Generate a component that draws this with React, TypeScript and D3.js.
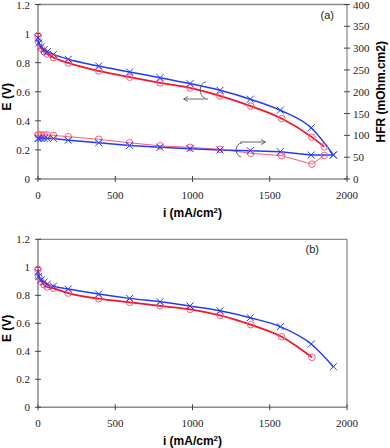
import React from "react";
import * as d3 from "d3";

// current density (mA/cm2)
const iBlueA = [0, 5, 20, 40, 60, 100, 196, 393, 593, 790, 984, 1178, 1374, 1568, 1768, 1912];
const eBlueA = [0.97, 0.935, 0.91, 0.89, 0.875, 0.857, 0.823, 0.777, 0.736, 0.697, 0.656, 0.61, 0.549, 0.473, 0.352, 0.165];
const iRedA = [0, 5, 20, 40, 60, 100, 196, 393, 593, 790, 984, 1178, 1377, 1577, 1773, 1853];
const eRedA = [0.985, 0.94, 0.9, 0.875, 0.86, 0.835, 0.798, 0.743, 0.7, 0.661, 0.626, 0.571, 0.501, 0.416, 0.288, 0.222];
// HFR (mOhm.cm2)
const hfrBlue = [93, 93, 93, 93, 93, 93, 89, 83, 77, 72.6, 69.6, 66.5, 65, 62.6, 55, 55];
const hfrRed = [101, 101, 101, 101, 101, 100, 97, 91, 83, 76, 72.6, 68, 59, 53.5, 34, 54];

const iBlueB = [0, 5, 20, 40, 60, 100, 196, 393, 593, 790, 984, 1178, 1374, 1568, 1768, 1912];
const eBlueB = [0.965, 0.935, 0.91, 0.895, 0.88, 0.865, 0.845, 0.809, 0.778, 0.754, 0.724, 0.69, 0.64, 0.576, 0.452, 0.29];
const iRedB = [0, 5, 20, 40, 60, 100, 196, 393, 593, 790, 984, 1178, 1377, 1577, 1773];
const eRedB = [0.985, 0.93, 0.9, 0.875, 0.86, 0.85, 0.816, 0.776, 0.75, 0.724, 0.7, 0.657, 0.59, 0.504, 0.357];

const xTicks = [0, 500, 1000, 1500, 2000];
const yTicks = [0, 0.2, 0.4, 0.6, 0.8, 1, 1.2];
const hfrTicks = [0, 50, 100, 150, 200, 250, 300, 350, 400];

const BLUE = "#1f3cf5";
const RED = "#f5142d";
const PINK = "#ff5a78";
const GRAY = "#8c8c8c";

const x = d3.scaleLinear().domain([0, 2000]).range([38, 347]);

function Cross({ cx, cy }: { cx: number; cy: number }) {
  const s = 3.5;
  return (
    <path
      d={`M${cx - s},${cy - s}L${cx + s},${cy + s}M${cx - s},${cy + s}L${cx + s},${cy - s}`}
      stroke={BLUE}
      strokeWidth={1}
      fill="none"
    />
  );
}

function Panel({
  top,
  bottom,
  label,
  blue,
  red,
  hfr,
}: {
  top: number;
  bottom: number;
  label: string;
  blue: [number[], number[]];
  red: [number[], number[]];
  hfr: boolean;
}) {
  const y = d3.scaleLinear().domain([0, 1.2]).range([bottom, top]);
  const yr = d3.scaleLinear().domain([0, 400]).range([bottom, top]);
  const smooth = d3
    .line<[number, number]>()
    .x((d) => x(d[0]))
    .y((d) => y(d[1]))
    .curve(d3.curveMonotoneX);
  const straight = d3
    .line<[number, number]>()
    .x((d) => x(d[0]))
    .y((d) => yr(d[1]));
  const bluePts = blue[0].map((v, k) => [v, blue[1][k]] as [number, number]);
  const redPts = red[0].map((v, k) => [v, red[1][k]] as [number, number]);
  const hb = iBlueA.map((v, k) => [v, hfrBlue[k]] as [number, number]);
  const hr = iRedA.map((v, k) => [v, hfrRed[k]] as [number, number]);
  const serif = "'Liberation Serif', 'DejaVu Serif', serif";
  const sans = "'Liberation Sans', Arial, sans-serif";
  return (
    <g>
      {/* frame */}
      <line x1={x(0)} x2={x(2000)} y1={top} y2={top} stroke={GRAY} strokeWidth={1.3} />
      <line x1={x(2000)} x2={x(2000)} y1={top} y2={bottom} stroke={GRAY} strokeWidth={1.3} />
      <line x1={x(0)} x2={x(2000)} y1={bottom} y2={bottom} stroke={GRAY} strokeWidth={1.5} />
      <line x1={x(0)} x2={x(0)} y1={top} y2={bottom} stroke={GRAY} strokeWidth={1.5} />
      {xTicks.map((t) => (
        <g key={"x" + t}>
          <line x1={x(t)} x2={x(t)} y1={bottom - 3} y2={bottom + 3} stroke="#444" strokeWidth={1} />
          <text x={x(t)} y={bottom + 20} textAnchor="middle" fontFamily={serif} fontSize={11} fill="#222">
            {t}
          </text>
        </g>
      ))}
      {yTicks.map((t) => (
        <g key={"y" + t}>
          <line x1={x(0) - 3} x2={x(0) + 3} y1={y(t)} y2={y(t)} stroke="#444" strokeWidth={1} />
          <text x={x(0) - 8} y={y(t) + 4} textAnchor="end" fontFamily={serif} fontSize={11} fill="#222">
            {t}
          </text>
        </g>
      ))}
      {hfr &&
        hfrTicks.map((t) => (
          <g key={"h" + t}>
            <line x1={x(2000) - 3} x2={x(2000) + 3} y1={yr(t)} y2={yr(t)} stroke="#444" strokeWidth={1} />
            <text x={x(2000) + 6} y={yr(t) + 4} textAnchor="start" fontFamily={serif} fontSize={11} fill="#222">
              {t}
            </text>
          </g>
        ))}
      <text x={6} y={(top + bottom) / 2} transform={`rotate(-90,11,${(top + bottom) / 2})`} textAnchor="middle" fontFamily={sans} fontWeight="bold" fontSize={12}>
        E (V)
      </text>
      {hfr && (
        <text x={381} y={(top + bottom) / 2} transform={`rotate(-90,381,${(top + bottom) / 2})`} dy={4} textAnchor="middle" fontFamily={sans} fontWeight="bold" fontSize={12}>
          HFR (mOhm.cm2)
        </text>
      )}
      <text x={(x(0) + x(2000)) / 2} y={bottom + 38} textAnchor="middle" fontFamily={sans} fontWeight="bold" fontSize={12}>
        i (mA/cm<tspan dy={-4} fontSize={8}>2</tspan>
        <tspan dy={4}>)</tspan>
      </text>
      <text x={hfr ? 334 : 319} y={top + 14} textAnchor="end" fontFamily={sans} fontSize={11} fill="#222">
        {label}
      </text>

      {hfr && (
        <g>
          <path d={straight(hr) || ""} stroke={PINK} strokeWidth={1} fill="none" />
          <path d={straight(hb) || ""} stroke={BLUE} strokeWidth={1.5} fill="none" />
          {hr.map((d, k) => (
            <circle key={"hr" + k} cx={x(d[0])} cy={yr(d[1])} r={3.3} fill="none" stroke={PINK} strokeWidth={1} />
          ))}
          {hb.map((d, k) => (
            <Cross key={"hb" + k} cx={x(d[0])} cy={yr(d[1])} />
          ))}
        </g>
      )}
      <path d={smooth(redPts) || ""} stroke={RED} strokeWidth={1.8} fill="none" />
      <path d={smooth(bluePts) || ""} stroke={BLUE} strokeWidth={1.5} fill="none" />
      {redPts.map((d, k) => (
        <circle key={"r" + k} cx={x(d[0])} cy={y(d[1])} r={3.3} fill="none" stroke={PINK} strokeWidth={1} />
      ))}
      {bluePts.map((d, k) => (
        <Cross key={"b" + k} cx={x(d[0])} cy={y(d[1])} />
      ))}

      {hfr && (
        <g stroke="#555" strokeWidth={0.9} fill="none">
          {/* curl + arrow pointing left (to E axis) */}
          <path d="M206,82 C199,82 198,96 205,98" />
          <path d="M208,99 L184,99" />
          <path d="M188,96.5 L183.5,99 L188,101.5" />
          {/* curl + arrow pointing right (to HFR axis) */}
          <path d="M242,143 C235,143 234,155 241,157" />
          <path d="M240,142 L265,142" />
          <path d="M261,139.5 L265.5,142 L261,144.5" />
        </g>
      )}
    </g>
  );
}

export default function App() {
  return (
    <svg width={390} height={448} style={{ position: "absolute", left: 0, top: 0, background: "#fff" }}>
      <Panel top={4.5} bottom={179} label="(a)" blue={[iBlueA, eBlueA]} red={[iRedA, eRedA]} hfr={true} />
      <Panel top={239.3} bottom={407.3} label="(b)" blue={[iBlueB, eBlueB]} red={[iRedB, eRedB]} hfr={false} />
    </svg>
  );
}
